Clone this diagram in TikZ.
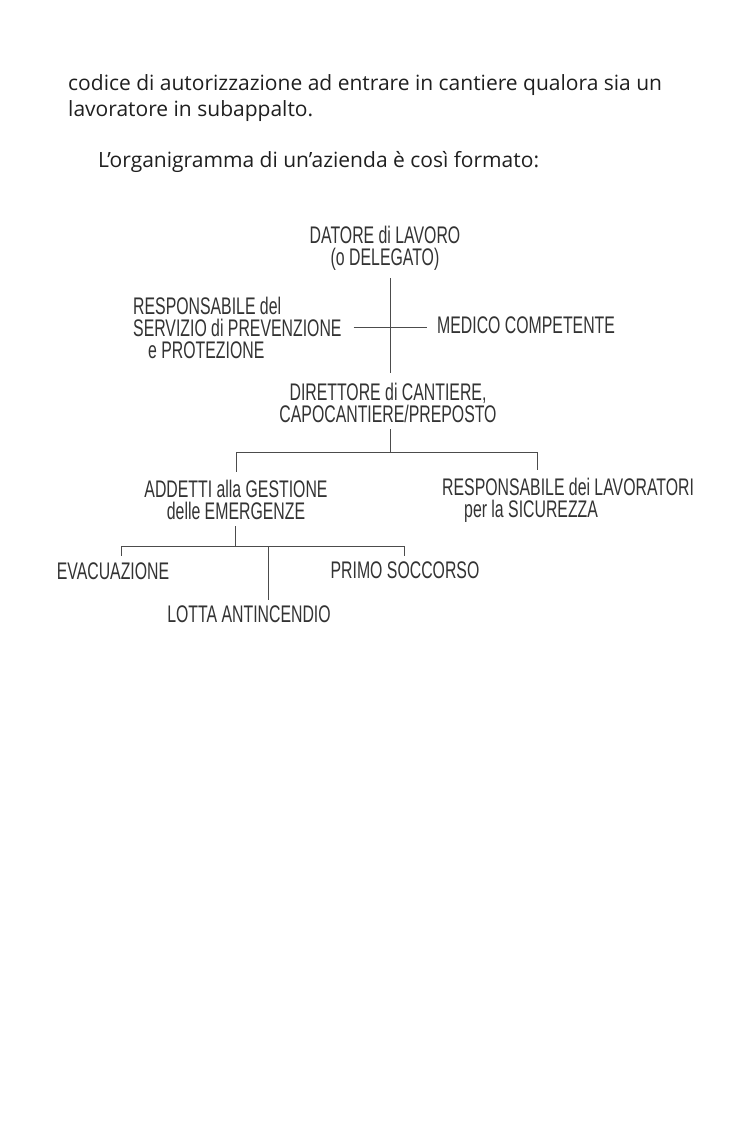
\documentclass[tikz,border=0pt]{standalone}
\usepackage{fontspec}
\setmainfont{Open Sans}
\newfontfamily\handfont[FakeStretch=0.66]{Liberation Sans}
\usetikzlibrary{positioning}

\begin{document}
\begin{tikzpicture}[x=1pt,y=-1pt,
  body/.style={font=\fontsize{21}{25}\selectfont, text=black!88, inner sep=0pt, anchor=base west},
  hand/.style={font=\handfont\fontsize{24}{22}\selectfont, text=black!80, inner sep=0pt, align=center},
  tree/.style={draw=black!70, line width=0.8pt}]
\useasboundingbox[fill=white] (0,0) rectangle (743,1148);
\node[body] (p1) at (68,90) {codice di autorizzazione ad entrare in cantiere qualora sia un};
\node[body] (p2) at (68,116) {lavoratore in subappalto.};
\node[body] (p3) at (98,167) {L’organigramma di un’azienda è così formato:};

\node[hand] (datore) at (385,248) {DATORE di LAVORO\\(o DELEGATO)};
\node[hand, align=left, anchor=west] (rspp) at (133,328) {RESPONSABILE del\\SERVIZIO di PREVENZIONE\\\hspace*{15pt}e PROTEZIONE};
\node[hand, anchor=west] (medico) at (437,325) {MEDICO COMPETENTE};
\node[hand] (direttore) at (388,403) {DIRETTORE di CANTIERE,\\CAPOCANTIERE/PREPOSTO};
\node[hand] (addetti) at (236,500) {ADDETTI alla GESTIONE\\delle EMERGENZE};
\node[hand, align=left, anchor=west] (rls) at (442,500) {RESPONSABILE dei LAVORATORI\\\hspace*{22pt}per la SICUREZZA};
\node[hand] (evac) at (113,571) {EVACUAZIONE};
\node[hand] (primo) at (405,570) {PRIMO SOCCORSO};
\node[hand] (lotta) at (249,614) {LOTTA ANTINCENDIO};

\coordinate (j1) at (390,327);
\coordinate (j2) at (390,452);
\coordinate (j3) at (235,546);
\coordinate (d2) at (537,470);
\coordinate (d3) at (121,556);
\coordinate (d4) at (404,556);
\coordinate (d5) at (268,600);
\path[tree,shorten <=8pt,shorten >=10pt] (datore.south -| j1) -- (direttore.north -| j1);
\path[tree,shorten <=12pt,shorten >=10pt] (rspp.east |- j1) -- (medico.west |- j1);
\path[tree,shorten <=6pt] (direttore.south -| j2) -- (j2);
\path[tree,shorten >=8pt] (j2) -| (addetti.north);
\path[tree] (j2) -| (d2);
\path[tree,shorten <=6pt] (addetti.south -| j3) -- (j3);
\path[tree] (j3) -| (d3);
\path[tree] (j3) -| (d4);
\path[tree] (d5 |- j3) -- (d5);
\end{tikzpicture}
\end{document}
